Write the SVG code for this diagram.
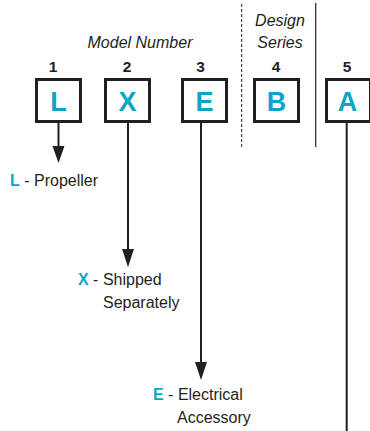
<svg xmlns="http://www.w3.org/2000/svg" width="370" height="431" viewBox="0 0 370 431">
<defs>
<style>
.t{font-family:"Liberation Sans",Arial,sans-serif;fill:#231f20;font-size:16px}
.it{font-style:italic;font-size:16px;text-anchor:middle}
.num{font-weight:bold;text-anchor:middle;font-size:15.5px}
.c{fill:#0aa5c6;font-weight:bold}
.box{fill:#fff;stroke:#231f20;stroke-width:3}
.big{font-family:"Liberation Sans",Arial,sans-serif;font-weight:bold;font-size:27px;fill:#0aa5c6;text-anchor:middle}
.ln{stroke:#231f20;stroke-width:2;fill:none}
.head{fill:#231f20}
</style>
</defs>
<g id="headers">
<text class="t it" x="140" y="48">Model Number</text>
<text class="t it" x="280" y="26">Design</text>
<text class="t it" x="280" y="48">Series</text>
<line x1="241.7" y1="4" x2="241.7" y2="148" stroke="#231f20" stroke-width="1" stroke-dasharray="3,2"/>
<line x1="315.7" y1="3" x2="315.7" y2="147" stroke="#333" stroke-width="1.3"/>
</g>
<g id="connectors">
<line class="ln" x1="58.5" y1="123" x2="58.5" y2="146"/>
<path class="head" d="M52.5,146 L64.5,146 L58.5,163 Z"/>
<line class="ln" x1="128" y1="123" x2="128" y2="249"/>
<path class="head" d="M122,249 L134,249 L128,267 Z"/>
<line class="ln" x1="201" y1="123" x2="201" y2="362"/>
<path class="head" d="M195,362 L207,362 L201,380 Z"/>
<line class="ln" x1="346.7" y1="123" x2="346.7" y2="431"/>
</g>
<g id="node1">
<text class="t num" x="53" y="72">1</text>
<rect class="box" x="36.5" y="79.5" width="44" height="42"/>
<text class="big" x="58.5" y="111">L</text>
</g>
<g id="node2">
<text class="t num" x="127" y="72">2</text>
<rect class="box" x="105.5" y="79.5" width="44" height="42"/>
<text class="big" x="127.5" y="111">X</text>
</g>
<g id="node3">
<text class="t num" x="200.5" y="72">3</text>
<rect class="box" x="182.5" y="79.5" width="44" height="42"/>
<text class="big" x="204.5" y="111">E</text>
</g>
<g id="node4">
<text class="t num" x="276" y="72">4</text>
<rect class="box" x="254.5" y="79.5" width="44" height="42"/>
<text class="big" x="276.5" y="111">B</text>
</g>
<g id="node5">
<text class="t num" x="347" y="72">5</text>
<rect class="box" x="326.5" y="79.5" width="44" height="42"/>
<text class="big" x="347.5" y="111">A</text>
</g>
<g id="label-L">
<text class="t" x="10" y="186"><tspan class="c">L</tspan> - Propeller</text>
</g>
<g id="label-X">
<text class="t" x="78" y="285"><tspan class="c">X</tspan> - Shipped</text>
<text class="t" x="103" y="308">Separately</text>
</g>
<g id="label-E">
<text class="t" x="153" y="400"><tspan class="c">E</tspan> - Electrical</text>
<text class="t" x="177" y="423">Accessory</text>
</g>
</svg>
